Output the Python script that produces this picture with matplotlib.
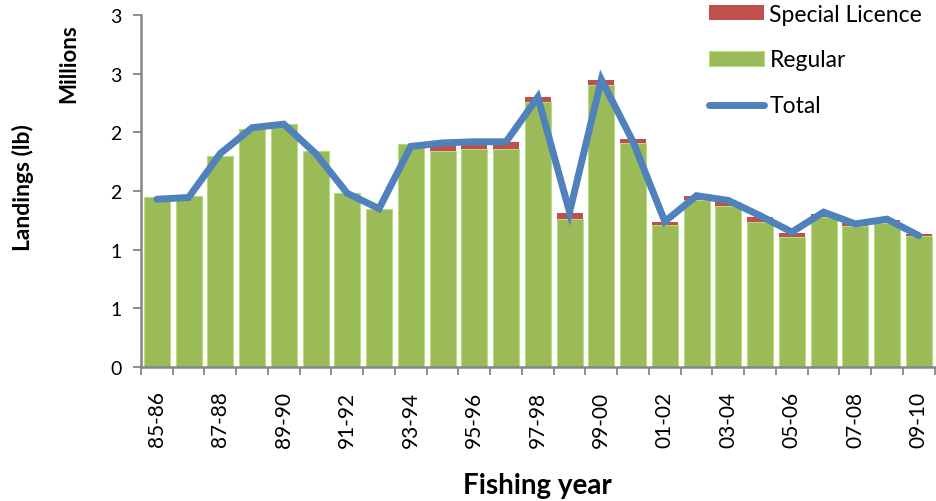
import numpy as np
import matplotlib.pyplot as plt
from matplotlib.ticker import FuncFormatter, FixedLocator

plt.rcParams['font.family'] = ['Lato', 'DejaVu Sans']

years = ["85-86", "86-87", "87-88", "88-89", "89-90", "90-91", "91-92", "92-93",
         "93-94", "94-95", "95-96", "96-97", "97-98", "98-99", "99-00", "00-01",
         "01-02", "02-03", "03-04", "04-05", "05-06", "06-07", "07-08", "08-09", "09-10"]

# landings, millions of lb
regular = [1.445, 1.46, 1.80, 2.03, 2.07, 1.84, 1.48, 1.35, 1.90, 1.84, 1.86, 1.86, 2.26,
           1.26, 2.40, 1.91, 1.21, 1.42, 1.37, 1.24, 1.105, 1.28, 1.20, 1.23, 1.12]
special = [0, 0, 0, 0, 0, 0, 0, 0, 0, 0.04, 0.05, 0.06, 0.04,
           0.05, 0.05, 0.03, 0.03, 0.035, 0.04, 0.035, 0.035, 0.02, 0.025, 0.025, 0.01]
total = [1.43, 1.445, 1.82, 2.04, 2.07, 1.82, 1.48, 1.35, 1.88, 1.91, 1.92, 1.92, 2.30,
         1.32, 2.45, 1.92, 1.24, 1.46, 1.42, 1.29, 1.15, 1.32, 1.22, 1.26, 1.12]

green = "#9BBB59"
red = "#C0504D"
blue = "#4F81BD"
grey = "#868686"

fig = plt.figure(figsize=(9.36, 5.02), dpi=100)
ax = fig.add_axes([0.1506, 0.267, 0.848, 0.701])

x = np.arange(len(years))
ax.bar(x, regular, width=0.82, color=green, edgecolor="#B5DC7E", linewidth=0.8,
       label="Regular", zorder=2)
ax.bar(x, special, width=0.82, bottom=regular, color=red, linewidth=0,
       label="Special Licence", zorder=2)
ax.plot(x, total, color=blue, linewidth=5, solid_capstyle="round",
        solid_joinstyle="miter", label="Total", zorder=3)

ax.set_xlim(-0.5, len(years) - 0.5)
ax.set_ylim(0, 3)
ax.set_yticks(np.arange(0, 3.01, 0.5))
ax.yaxis.set_major_formatter(FuncFormatter(lambda v, p: "%d" % int(np.floor(v + 0.5))))

ax.xaxis.set_major_locator(FixedLocator(np.arange(-0.5, len(years), 1)))
ax.xaxis.set_major_formatter(FuncFormatter(lambda v, p: ""))
ax.xaxis.set_minor_locator(FixedLocator(x[::2]))
ax.set_xticklabels([years[i] for i in x[::2]], minor=True, rotation=90)
ax.tick_params(axis="x", which="minor", length=0, pad=17, labelsize=15)
ax.tick_params(axis="x", which="major", length=6, color=grey, width=1.3)
ax.tick_params(axis="y", length=6, color=grey, width=1.3, labelsize=14, pad=8)

for s in ["top", "right"]:
    ax.spines[s].set_visible(False)
for s in ["left", "bottom"]:
    ax.spines[s].set_color(grey)
    ax.spines[s].set_linewidth(1.8)

ax.set_xlabel("Fishing year", fontsize=20, fontweight="bold", labelpad=18)
fig.text(0.024, 0.627, "Landings (lb)", rotation=90, fontsize=16.5, fontweight="bold",
         ha="center", va="center")
fig.text(0.073, 0.874, "Millions", rotation=90, fontsize=16, fontweight="bold",
         ha="center", va="center")

h, l = ax.get_legend_handles_labels()
order = [2, 1, 0]
leg = fig.legend([h[i] for i in order], [l[i] for i in order], loc="upper right",
                 bbox_to_anchor=(1.0, 1.018), frameon=False, fontsize=16.5,
                 labelspacing=1.08, handlelength=2.4, handletextpad=0.25,
                 handleheight=0.6, borderaxespad=0.2)

fig.savefig("out.png", dpi=100)
